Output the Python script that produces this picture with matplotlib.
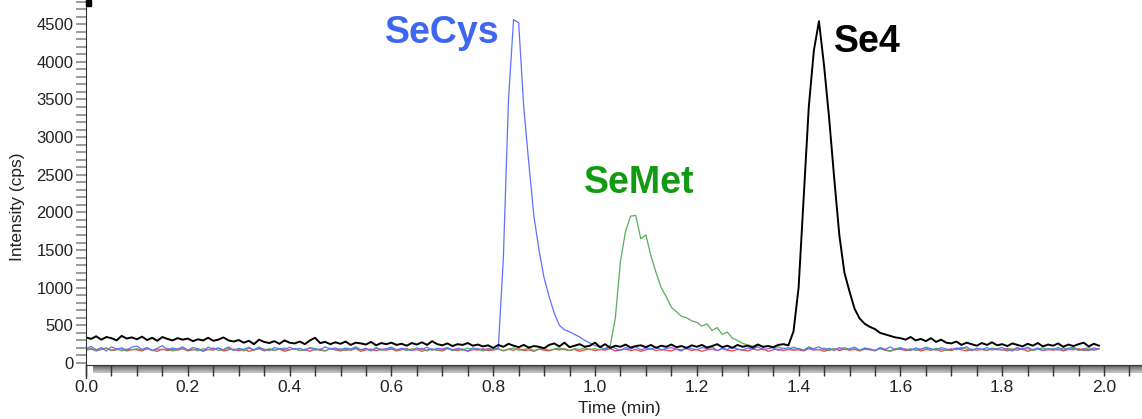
import numpy as np
import matplotlib
matplotlib.use('Agg')
import matplotlib.pyplot as plt
from matplotlib.patches import Rectangle
from matplotlib.colors import LinearSegmentedColormap

plt.rcParams['font.family'] = ['Liberation Sans', 'DejaVu Sans']

# retention time grid (min), one reading every 0.01 min
time = np.round(np.arange(0, 200) * 0.01, 2)

# Se4 (black)
se4 = [340, 320, 355, 310, 345, 330, 300, 360, 325, 340,
       315, 350, 305, 335, 295, 345, 320, 300, 330, 310,
       325, 290, 315, 300, 335, 295, 310, 340, 300, 285,
       305, 270, 295, 250, 310, 280, 265, 290, 255, 300,
       270, 260, 285, 250, 300, 335, 265, 280, 250, 275,
       255, 285, 240, 270, 260, 245, 280, 235, 265, 250,
       270, 240, 255, 230, 265, 245, 275, 240, 290, 250,
       235, 260, 225, 250, 240, 265, 230, 245, 220, 235,
       200, 240, 215, 255, 230, 210, 240, 205, 225, 215,
       195, 240, 260, 220, 270, 210, 230, 250, 215, 230,
       270, 210, 250, 200, 230, 215, 245, 205, 225, 235,
       210, 240, 200, 230, 215, 245, 210, 225, 200, 235,
       215, 240, 205, 225, 250, 210, 230, 200, 240, 215,
       230, 205, 245, 215, 225, 210, 240, 250, 235, 420,
       1000, 2200, 3400, 4150, 4540, 3950, 3250, 2450, 1700, 1200,
       950, 720, 590, 520, 480, 450, 400, 380, 360, 340,
       330, 310, 345, 300, 320, 290, 330, 280, 310, 270,
       260, 285, 240, 270, 250, 230, 265, 240, 275, 235,
       250, 225, 260, 240, 220, 255, 230, 265, 220, 245,
       230, 260, 215, 245, 225, 250, 270, 220, 255, 230]

# SeCys (blue)
secys = [190, 220, 175, 205, 160, 215, 185, 200, 170, 210,
         225, 180, 205, 165, 195, 230, 175, 200, 185, 215,
         170, 205, 190, 160, 210, 185, 200, 175, 215, 165,
         195, 180, 210, 170, 200, 185, 165, 205, 190, 175,
         210, 180, 195, 165, 205, 190, 175, 215, 185, 200,
         170, 200, 185, 215, 175, 195, 165, 205, 180, 190,
         210, 175, 195, 185, 165, 200, 180, 210, 170, 195,
         185, 205, 170, 195, 180, 160, 200, 185, 175, 190,
         180, 200, 1400, 3490, 4560, 4520, 3400, 2650, 1950, 1500,
         1130, 880, 660, 500, 440, 415, 380, 345, 300, 265,
         230, 210, 180, 220, 195, 165, 205, 185, 215, 175,
         200, 185, 215, 170, 195, 205, 180, 160, 210, 190,
         175, 205, 190, 215, 165, 195, 180, 210, 185, 170,
         200, 185, 215, 175, 190, 205, 165, 195, 180, 210,
         185, 170, 200, 190, 215, 175, 195, 165, 205, 180,
         190, 210, 170, 195, 185, 160, 205, 180, 215, 175,
         195, 185, 165, 200, 180, 210, 190, 170, 205, 185,
         175, 200, 190, 215, 165, 195, 180, 205, 170, 190,
         205, 180, 160, 195, 185, 210, 175, 200, 165, 190,
         180, 205, 170, 195, 210, 175, 190, 165, 200, 185]

# SeMet (green)
semet = [175, 195, 165, 185, 200, 170, 190, 160, 185, 175,
         190, 170, 200, 165, 185, 175, 195, 160, 180, 205,
         170, 185, 160, 190, 175, 200, 165, 180, 195, 170,
         185, 160, 195, 175, 215, 170, 190, 165, 185, 200,
         175, 190, 165, 180, 200, 170, 185, 160, 195, 175,
         190, 165, 180, 200, 175, 185, 160, 195, 170, 185,
         200, 170, 185, 165, 190, 175, 195, 160, 185, 170,
         180, 195, 165, 185, 170, 200, 175, 190, 160, 185,
         175, 190, 165, 185, 200, 170, 180, 195, 165, 185,
         190, 170, 185, 200, 175, 165, 190, 180, 200, 175,
         190, 175, 195, 230, 600, 1350, 1750, 1950, 1960, 1650,
         1700, 1420, 1200, 1000, 880, 740, 680, 620, 600, 560,
         540, 490, 520, 430, 470, 380, 410, 330, 300, 260,
         240, 225, 250, 205, 230, 200, 215, 190, 205, 180,
         195, 170, 215, 185, 175, 200, 165, 190, 180, 205,
         175, 190, 165, 200, 185, 170, 195, 180, 160, 190,
         205, 175, 190, 165, 185, 200, 170, 195, 180, 165,
         190, 175, 205, 185, 165, 195, 180, 170, 200, 185,
         170, 195, 180, 205, 175, 190, 165, 185, 200, 175,
         190, 170, 200, 180, 195, 165, 185, 205, 175, 190]

# blank / other channel (red)
other = [170, 185, 160, 180, 195, 165, 175, 190, 160, 180,
         175, 160, 190, 170, 155, 185, 165, 180, 170, 190,
         160, 175, 185, 155, 180, 170, 195, 160, 175, 185,
         165, 180, 155, 175, 190, 160, 180, 170, 185, 155,
         175, 190, 165, 180, 155, 185, 170, 160, 190, 175,
         160, 180, 170, 190, 155, 175, 185, 165, 180, 170,
         185, 160, 175, 190, 165, 180, 155, 175, 185, 170,
         160, 190, 175, 165, 185, 155, 180, 170, 190, 165,
         175, 185, 160, 180, 170, 190, 165, 175, 155, 185,
         170, 160, 185, 175, 190, 165, 180, 155, 175, 185,
         165, 180, 170, 190, 160, 175, 185, 165, 180, 155,
         175, 190, 165, 180, 170, 160, 185, 175, 190, 165,
         180, 155, 175, 185, 165, 190, 170, 160, 180, 175,
         160, 185, 170, 190, 155, 175, 185, 165, 180, 170,
         175, 160, 190, 170, 180, 155, 175, 190, 165, 185,
         170, 180, 160, 185, 175, 165, 190, 170, 155, 180,
         185, 165, 175, 190, 160, 180, 170, 185, 155, 175,
         165, 190, 175, 160, 185, 170, 180, 165, 190, 175,
         180, 160, 185, 170, 190, 155, 175, 185, 165, 180,
         170, 185, 160, 180, 175, 190, 165, 180, 170, 185]

labels = ['SeCys', 'SeMet', 'Se4']
label_t = [0.700, 1.086, 1.535]
label_v = [4380, 2390, 4260]
label_colors = ['#3f66f2', '#139a13', 'black']

W, H = 1142, 419
fig = plt.figure(figsize=(W / 100, H / 100), dpi=100)
ax = fig.add_axes([86 / W, (H - 365) / H, (W - 86) / W, 365 / H])

ax.plot(time, other, color='#f04040', lw=0.9)
ax.plot(time, semet, color='#5aac5a', lw=0.9)
ax.plot(time, secys, color='#5f72ff', lw=0.9)
ax.plot(time, se4, color='black', lw=1.4)

for txt, t, v, c in zip(labels, label_t, label_v, label_colors):
    ax.text(t, v, txt, color=c, fontsize=27, fontweight='bold', ha='center', va='center')

ax.set_xlim(0, (W - 86) / 509)
ax.set_ylim(-26.6, 4821)

ax.spines['top'].set_visible(False)
ax.spines['right'].set_visible(False)
ax.spines['left'].set_color('#333333')
ax.spines['bottom'].set_color('#333333')

ax.set_xticks(np.round(np.arange(0, 2.01, 0.2), 1))
ax.set_xticks(np.arange(0, 2.08, 0.05), minor=True)
ax.set_yticks(np.arange(0, 4501, 500))
ax.set_yticks(np.arange(0, 4801, 100), minor=True)
ax.tick_params(axis='x', which='both', direction='out', length=8, width=1.0,
               color='#333333', labelsize=12.5, labelcolor='#222222', pad=3)
ax.tick_params(axis='y', which='both', direction='out', length=7, width=1.2,
               color='#8a8a8a', labelsize=12, labelcolor='#222222', pad=2)

# left axis runs a little below the time axis
ax.plot([0, 0], [0, -13 / 365], transform=ax.transAxes, color='#333333', lw=1.0, clip_on=False)

# shaded strip under the time axis
band = fig.add_axes([93 / W, (H - 373) / H, (W - 93) / W, 8 / H])
grey = LinearSegmentedColormap.from_list('band', ['#4a4a4a', '#8c8c8c', '#c8c8c8'])
band.imshow(np.linspace(0, 1, 20).reshape(-1, 1), aspect='auto', cmap=grey, extent=[0, 1, 0, 1])
band.set_axis_off()
band.set_zorder(-1)

fig.text(619 / W, 1 - 408 / H, 'Time (min)', fontsize=12.5, color='#222222', ha='center', va='center')
fig.text(18 / W, 1 - 207 / H, 'Intensity (cps)', fontsize=12.5, color='#222222',
         ha='center', va='center', rotation=90)

fig.patches.append(Rectangle((86 / W, 1 - 6 / H), 5 / W, 6 / H, transform=fig.transFigure,
                             color='black', zorder=5))

fig.savefig('out.png', dpi=100)
